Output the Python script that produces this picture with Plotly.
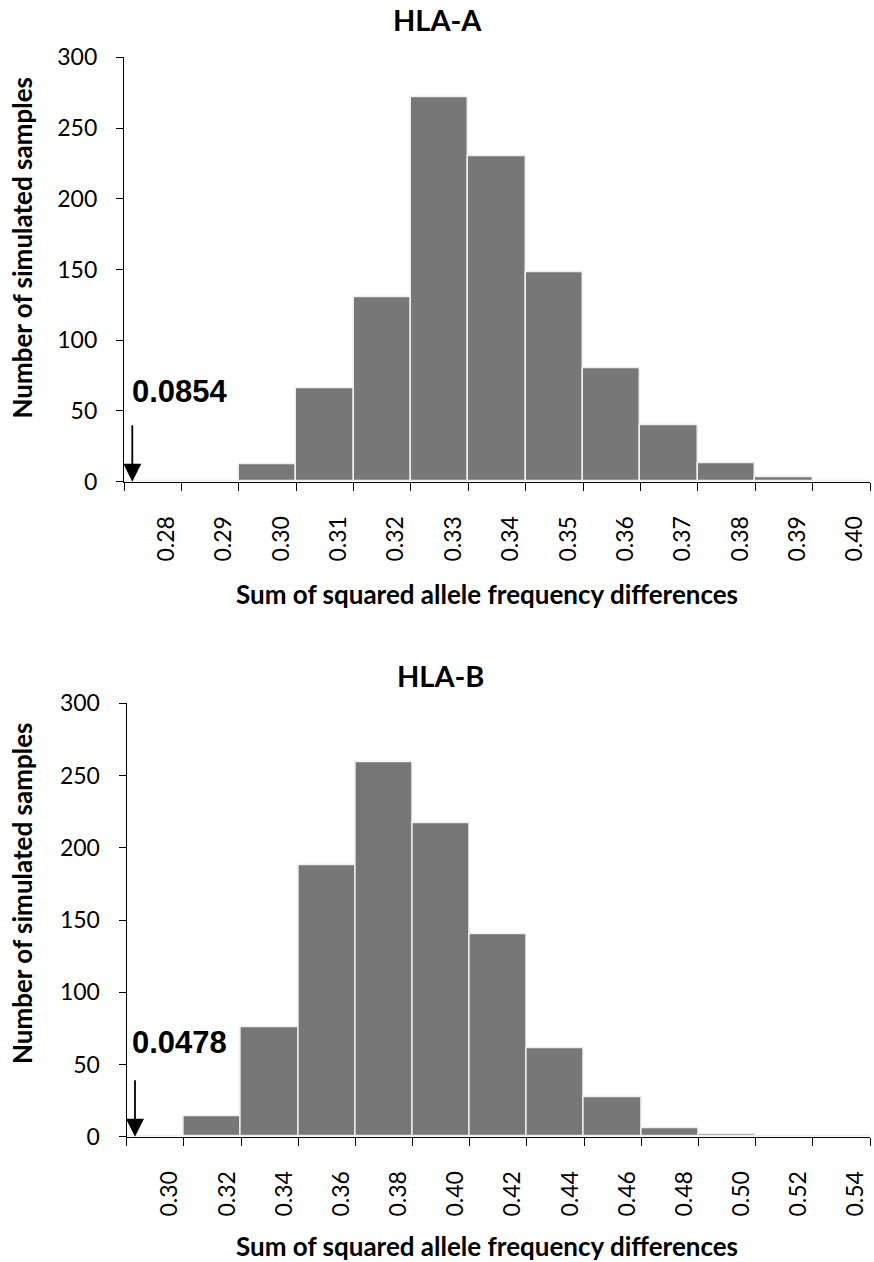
import plotly.graph_objects as go

# ---------------- data ----------------
A_title = "HLA-A"
A_range_start = 0.27
A_bin_width = 0.01
A_bin_upper = [0.28, 0.29, 0.30, 0.31, 0.32, 0.33, 0.34, 0.35, 0.36, 0.37, 0.38, 0.39, 0.40]
A_counts = [0, 0, 12, 66, 130, 272, 230, 148, 80, 40, 13, 3, 0]
A_observed_label = "0.0854"

B_title = "HLA-B"
B_range_start = 0.28
B_bin_width = 0.02
B_bin_upper = [0.30, 0.32, 0.34, 0.36, 0.38, 0.40, 0.42, 0.44, 0.46, 0.48, 0.50, 0.52, 0.54]
B_counts = [0, 14, 76, 188, 259, 217, 140, 61, 27, 6, 2, 0, 0]
B_observed_label = "0.0478"

x_title = "Sum of squared allele frequency differences"
y_title = "Number of simulated samples"
y_ticks = [0, 50, 100, 150, 200, 250, 300]

# ---------------- figure ----------------
W, H = 874, 1262
BAR_COLOR = "#777777"
EDGE_COLOR = "#eeeeee"
FONT = "Lato"

def px(v):
    return v / W

def py(v):
    return 1 - v / H

fig = go.Figure()

for upper, counts, bw, xa, ya in [
    (A_bin_upper, A_counts, A_bin_width, "x", "y"),
    (B_bin_upper, B_counts, B_bin_width, "x2", "y2"),
]:
    fig.add_trace(go.Bar(
        x=[u - bw / 2 for u in upper],
        y=counts,
        width=bw,
        marker=dict(color=BAR_COLOR, line=dict(color=EDGE_COLOR, width=1.5)),
        xaxis=xa, yaxis=ya,
        showlegend=False,
        hoverinfo="x+y",
    ))

def xaxis_cfg(domain, anchor, start, upper, shift):
    return dict(
        domain=domain, anchor=anchor,
        range=[start, upper[-1]],
        automargin=False,
        tickmode="array",
        tickvals=[start] + upper,
        ticktext=[""] + [f"{u:.2f}" for u in upper],
        tickangle=-90,
        ticks="outside", ticklen=8, tickwidth=1.3, tickcolor="black",
        showline=True, linecolor="black", linewidth=1.3,
        showgrid=False, zeroline=False,
        tickfont=dict(family=FONT, size=23, color="black"),
        ticklabelshift=shift,
        ticklabelstandoff=16,
        fixedrange=True,
    )

def yaxis_cfg(domain, anchor):
    return dict(
        domain=domain, anchor=anchor,
        range=[0, 300],
        automargin=False,
        tickmode="array", tickvals=y_ticks,
        ticks="outside", ticklen=7, tickwidth=1.3, tickcolor="black",
        showline=True, linecolor="black", linewidth=1.3,
        showgrid=False, zeroline=False,
        tickfont=dict(family=FONT, size=23, color="black"),
        ticklabelstandoff=14,
        fixedrange=True,
    )

fig.update_layout(
    width=W, height=H,
    autosize=False,
    margin=dict(l=0, r=0, t=0, b=0, pad=0, autoexpand=False),
    paper_bgcolor="white", plot_bgcolor="white",
    bargap=0,
    xaxis=xaxis_cfg([px(124), px(870)], "y", A_range_start, A_bin_upper, -15),
    yaxis=yaxis_cfg([py(481.7), py(57.3)], "x"),
    xaxis2=xaxis_cfg([px(126.7), px(870)], "y2", B_range_start, B_bin_upper, -14),
    yaxis2=yaxis_cfg([py(1136.7), py(703.3)], "x2"),
)

ann = []
# panel titles
ann.append(dict(text=f"<b>{A_title}</b>", xref="paper", yref="paper", x=px(437), y=py(19),
                xanchor="center", yanchor="middle", showarrow=False,
                font=dict(family=FONT, size=29, color="black")))
ann.append(dict(text=f"<b>{B_title}</b>", xref="paper", yref="paper", x=px(440), y=py(675),
                xanchor="center", yanchor="middle", showarrow=False,
                font=dict(family=FONT, size=29, color="black")))
# axis titles
for yc_x, yc_y in [(594, 247.5), (1246, 893)]:
    ann.append(dict(text=f"<b>{x_title}</b>", xref="paper", yref="paper", x=px(487.5), y=py(yc_x),
                    xanchor="center", yanchor="middle", showarrow=False,
                    font=dict(family=FONT, size=26, color="black")))
    ann.append(dict(text=f"<b>{y_title}</b>", xref="paper", yref="paper", x=px(22), y=py(yc_y),
                    xanchor="center", yanchor="middle", showarrow=False, textangle=-90,
                    font=dict(family=FONT, size=26, color="black")))

# observed-value markers (arrow + label)
for xr, yr, start, bw, x0px, label, arrow_px, text_px, text_y in [
    ("x", "y", A_range_start, A_bin_width / 57.4, 124, A_observed_label, 132.3, 180, 64),
    ("x2", "y2", B_range_start, B_bin_width / 57.2, 126.7, B_observed_label, 135, 180, 65.5),
]:
    ann.append(dict(text="", xref=xr, yref=yr, x=start + (arrow_px - x0px) * bw, y=0,
                    ax=0, ay=-58, showarrow=True, arrowhead=2, arrowsize=2.0,
                    arrowwidth=1.8, arrowcolor="black"))
    ann.append(dict(text=f"<b>{label}</b>", xref=xr, yref=yr, x=start + (text_px - x0px) * bw, y=text_y,
                    xanchor="center", yanchor="middle", showarrow=False,
                    font=dict(family="Liberation Sans", size=31, color="black")))

fig.update_layout(annotations=ann)

fig.write_html("out.html")
